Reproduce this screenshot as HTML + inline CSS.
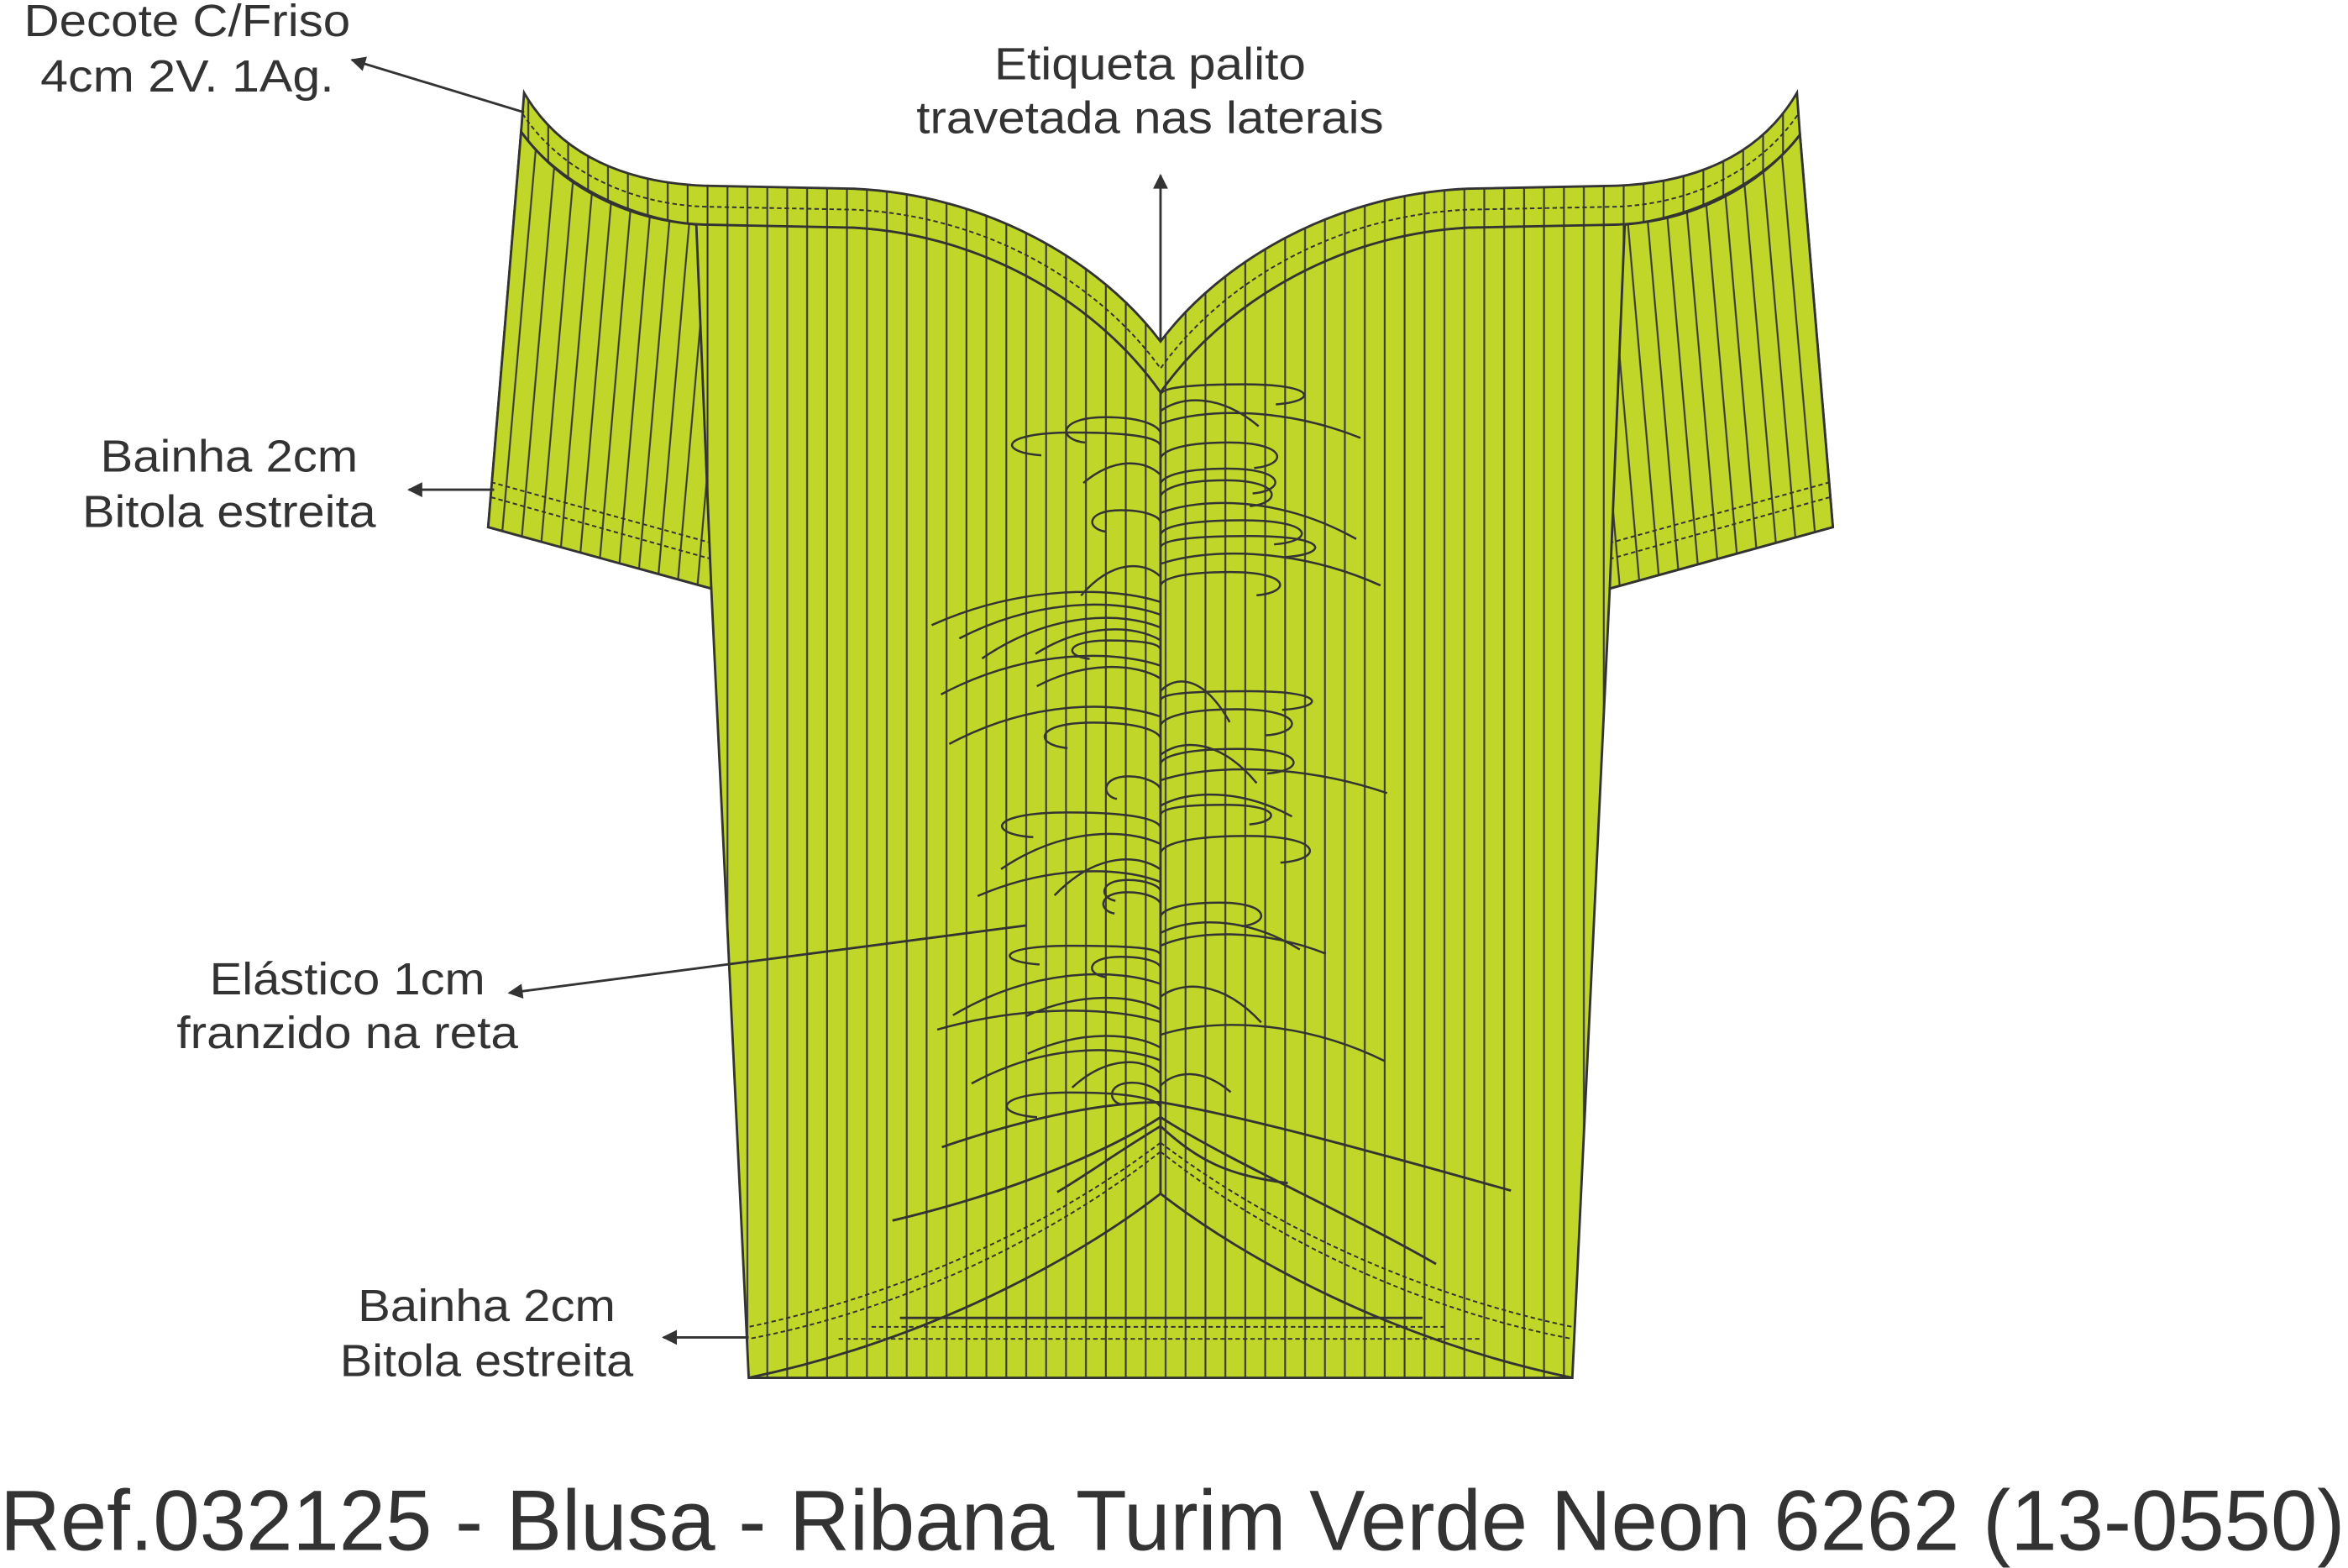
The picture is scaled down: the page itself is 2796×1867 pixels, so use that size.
<!DOCTYPE html>
<html><head><meta charset="utf-8"><style>
html,body{margin:0;padding:0;background:#fff;width:2796px;height:1867px;overflow:hidden}
svg{display:block}
text{font-family:"Liberation Sans",Arial,sans-serif;fill:#333}
</style></head><body>
<svg width="2796" height="1867" viewBox="0 0 1568 1047" preserveAspectRatio="none" xmlns="http://www.w3.org/2000/svg">
<defs>
<pattern id="st" patternUnits="userSpaceOnUse" width="13.3" height="20" x="1">
<rect width="13.3" height="20" fill="#c0d72a"/><line x1="6" y1="0" x2="6" y2="20" stroke="#3a3a3a" stroke-width="1.2"/></pattern>
<pattern id="stL" patternUnits="userSpaceOnUse" width="13.3" height="20" patternTransform="rotate(5)">
<rect width="13.3" height="20" fill="#c0d72a"/><line x1="6" y1="0" x2="6" y2="20" stroke="#3a3a3a" stroke-width="1.2"/></pattern>
<pattern id="stR" patternUnits="userSpaceOnUse" width="13.3" height="20" patternTransform="rotate(-5)">
<rect width="13.3" height="20" fill="#c0d72a"/><line x1="6" y1="0" x2="6" y2="20" stroke="#3a3a3a" stroke-width="1.2"/></pattern>
<marker id="ar" viewBox="0 0 10 10" refX="9" refY="5" markerWidth="12" markerHeight="10" markerUnits="userSpaceOnUse" orient="auto"><path d="M0,0 L10,5 L0,10 Z" fill="#333"/></marker>
</defs>
<g stroke="#333" stroke-width="1.6" fill="none">
<path fill="url(#st)" d="M350,62 C375,105 420,122 470,124 L570,126 C660,130 735,175 775,228 C815,175 890,130 980,126 L1080,124 C1130,122 1175,105 1200,62 L1202,90 L1224,352 L1075,393 L1050,920 L500,920 L475,393 L326,352 L348,88 Z"/>
<path fill="url(#stL)" d="M348,88 C372,122 420,146 465,150 L475,393 L326,352 Z"/>
<path fill="url(#stR)" d="M1202,90 C1178,122 1130,146 1085,150 L1075,393 L1224,352 Z"/>
<path d="M348,88 C375,125 420,148 470,150 L570,152 C660,157 735,205 775,262 C815,205 890,157 980,152 L1080,150 C1130,148 1175,125 1202,90"/>
<path stroke-dasharray="3,2" stroke-width="1.1" d="M349,76 C374,114 420,136 470,138 L570,140 C660,144 735,190 775,246 C815,190 890,144 980,140 L1080,138 C1130,136 1175,114 1201,76"/>
<g stroke-dasharray="3,2" stroke-width="1.1">
<path d="M328,322 L473,362 M328,332 L474,373 M1222,322 L1077,362 M1222,332 L1076,373"/>
</g>
<path d="M775,262 L775,797"/>
<path d="M775,797 C720,840 620,895 500,920 M775,797 C830,840 930,895 1050,920"/>
<path d="M601,880 L950,880"/>
<path stroke-dasharray="3,2" stroke-width="1.1" d="M582,886 L966,886 M560,894 L990,894"/>
<path d="M775,746 C730,775 660,800 596,815 M775,746 C820,775 900,810 959,844"/>
<path d="M775,752 C745,770 725,785 706,796 M775,752 C800,775 820,785 860,790"/>
<path d="M629,766 C690,745 740,736 775,736 C830,745 920,770 1009,795"/>
<path stroke-dasharray="3,2" stroke-width="1.1" d="M775,763 C700,820 600,865 500,886 M775,763 C850,820 950,865 1050,886 M775,769 C700,828 600,875 500,894 M775,769 C850,828 950,875 1050,894"/>
<g id="gath" stroke-width="1.4"></g>
<path d="M350,75 L235,40" marker-end="url(#ar)"/>
<path d="M775,228 L775,117" marker-end="url(#ar)"/>
<path d="M330,327 L273,327" marker-end="url(#ar)"/>
<path d="M685,618 L340,663" marker-end="url(#ar)"/>
<path d="M500,893 L443,893" marker-end="url(#ar)"/>
</g>
<g font-size="30">
<text x="125" y="24" text-anchor="middle" textLength="218" lengthAdjust="spacingAndGlyphs">Decote C/Friso</text>
<text x="125" y="61" text-anchor="middle" textLength="196" lengthAdjust="spacingAndGlyphs">4cm 2V. 1Ag.</text>
<text x="768" y="53" text-anchor="middle" textLength="208" lengthAdjust="spacingAndGlyphs">Etiqueta palito</text>
<text x="768" y="89" text-anchor="middle" textLength="312" lengthAdjust="spacingAndGlyphs">travetada nas laterais</text>
<text x="153" y="315" text-anchor="middle" textLength="172" lengthAdjust="spacingAndGlyphs">Bainha 2cm</text>
<text x="153" y="352" text-anchor="middle" textLength="196" lengthAdjust="spacingAndGlyphs">Bitola estreita</text>
<text x="232" y="664" text-anchor="middle" textLength="184" lengthAdjust="spacingAndGlyphs">Elástico 1cm</text>
<text x="232" y="700" text-anchor="middle" textLength="228" lengthAdjust="spacingAndGlyphs">franzido na reta</text>
<text x="325" y="882" text-anchor="middle" textLength="172" lengthAdjust="spacingAndGlyphs">Bainha 2cm</text>
<text x="325" y="919" text-anchor="middle" textLength="196" lengthAdjust="spacingAndGlyphs">Bitola estreita</text>
</g>
<text x="0" y="1035" font-size="57" textLength="1566" lengthAdjust="spacingAndGlyphs">Ref.032125 - Blusa - Ribana Turim Verde Neon 6262 (13-0550)</text>
</svg>
<script>
(function(){
var g=document.getElementById('gath');var s=11;function r(){s=(s*9301+49297)%233280;return s/233280;}
var d='';
for(var y=262;y<740;y+=8.5){
 var side=r()<0.5?-1:1;
 var L=45+r()*105; if(r()<0.2)L=140+r()*15;
 var x0=775+side*L;
 if(r()<0.45){
  var yy=y-4-r()*6;
  d+='M'+(775+side*L*0.55).toFixed(1)+','+(y+8).toFixed(1)+' C'+(775+side*L*0.75).toFixed(1)+','+(y+6)+' '+(775+side*L*0.75).toFixed(1)+','+yy.toFixed(1)+' '+(775+side*L*0.4).toFixed(1)+','+yy.toFixed(1)+' C'+(775+side*10)+','+yy.toFixed(1)+' 775,'+(y-2)+' 775,'+(y+2)+' ';
 } else {
  var y0=y+8+r()*18;
  d+='M'+x0.toFixed(1)+','+y0.toFixed(1)+' C'+(775+side*L*0.6).toFixed(1)+','+(y-8).toFixed(1)+' '+(775+side*L*0.2).toFixed(1)+','+(y-6).toFixed(1)+' 775,'+(y+4)+' ';
 }
}
var p=document.createElementNS('http://www.w3.org/2000/svg','path');p.setAttribute('d',d);g.appendChild(p);
})();
</script>
</body></html>
